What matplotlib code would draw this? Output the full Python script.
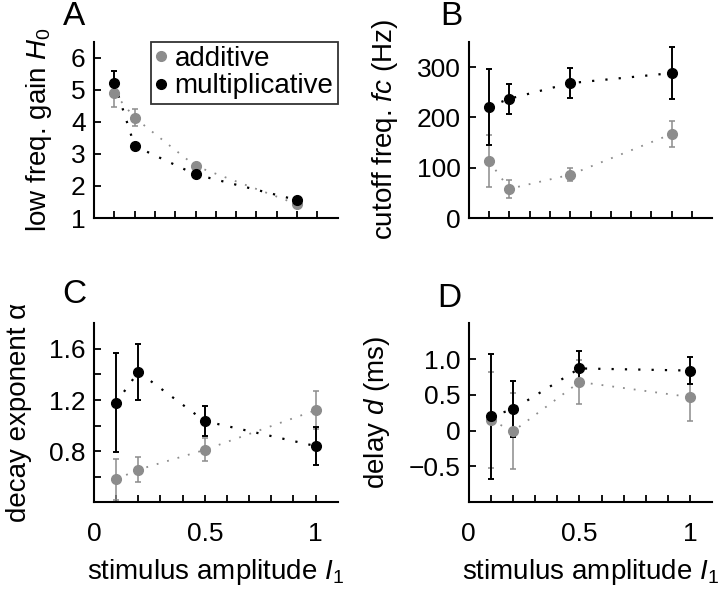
import matplotlib
matplotlib.use("Agg")
import matplotlib.pyplot as plt
from matplotlib.lines import Line2D
from matplotlib.ticker import FixedLocator, FixedFormatter

plt.rcParams['font.family'] = ['Liberation Sans', 'DejaVu Sans']
plt.rcParams['mathtext.fontset'] = 'custom'
plt.rcParams['mathtext.rm'] = 'Liberation Sans'
plt.rcParams['mathtext.it'] = 'Liberation Sans:italic'

amp = [0.1, 0.2, 0.5, 1.0]
GRAY = '#8c8c8c'

# A: low frequency gain
gain_add = [4.9, 4.13, 2.62, 1.43]
gain_add_err = [0.42, 0.26, 0.08, 0.05]
gain_mul = [5.22, 3.25, 2.36, 1.56]
gain_mul_err = [0.37, 0.05, 0.05, 0.04]

# B: cutoff frequency
fc_add = [113, 58, 86, 167]
fc_add_err = [52, 18, 13, 25]
fc_mul = [221, 237, 268, 288]
fc_mul_err = [75, 30, 30, 51]

# C: decay exponent
alpha_add = [0.58, 0.655, 0.81, 1.12]
alpha_add_err = [0.16, 0.10, 0.09, 0.15]
alpha_mul = [1.18, 1.42, 1.035, 0.84]
alpha_mul_err = [0.39, 0.22, 0.12, 0.145]

# D: delay
delay_add = [0.15, -0.01, 0.68, 0.47]
delay_add_err = [0.67, 0.53, 0.31, 0.33]
delay_mul = [0.2, 0.3, 0.87, 0.84]
delay_mul_err = [0.875, 0.39, 0.25, 0.19]

fig = plt.figure(figsize=(7.2, 5.9), dpi=100)
W = 0.3384
axA = fig.add_axes([0.1306, 0.6305, W, 0.2985])
axB = fig.add_axes([0.651, 0.6305, W, 0.2985])
axC = fig.add_axes([0.1306, 0.1487, W, 0.3033])
axD = fig.add_axes([0.651, 0.1487, W, 0.3033])

TICK_FS = 19
LAB_FS = 20


def draw(ax, y_add, e_add, y_mul, e_mul):
    dots = (0, (1, 5))
    ax.plot(amp, y_add, color=GRAY, ls=dots, lw=1.3)
    ax.plot(amp, y_mul, color='black', ls=dots, lw=1.6)
    ax.errorbar(amp, y_add, yerr=e_add, fmt='o', color=GRAY, ms=7,
                elinewidth=1.1, capsize=2, capthick=1.1)
    ax.errorbar(amp, y_mul, yerr=e_mul, fmt='o', color='black', ms=7,
                elinewidth=1.4, capsize=2, capthick=1.4)
    for s in ['top', 'right']:
        ax.spines[s].set_visible(False)
    for s in ['left', 'bottom']:
        ax.spines[s].set_linewidth(1.5)
    ax.tick_params(which='both', direction='in', length=5, width=1.3,
                   labelsize=TICK_FS, pad=6)


draw(axA, gain_add, gain_add_err, gain_mul, gain_mul_err)
draw(axB, fc_add, fc_add_err, fc_mul, fc_mul_err)
draw(axC, alpha_add, alpha_add_err, alpha_mul, alpha_mul_err)
draw(axD, delay_add, delay_add_err, delay_mul, delay_mul_err)

# top row x axes
for ax in (axA, axB):
    ax.set_xlim(0, 1.2)
    ax.xaxis.set_major_locator(FixedLocator([0.1 * i for i in range(1, 12)]))
    ax.set_xticklabels([])

# bottom row x axes
for ax in (axC, axD):
    ax.set_xlim(0, 1.1)
    ax.xaxis.set_major_locator(FixedLocator([0, 0.5, 1]))
    ax.xaxis.set_major_formatter(FixedFormatter(['0', '0.5', '1']))
    ax.xaxis.set_minor_locator(FixedLocator([0.1 * i for i in range(1, 11)]))
    ax.set_xlabel(r'stimulus amplitude $I_{\mathit{1}}$', fontsize=LAB_FS,
                  labelpad=8)
    ax.tick_params(axis='x', pad=14)

axA.set_ylim(1, 6.5)
axA.set_yticks([1, 2, 3, 4, 5, 6])
axA.set_ylabel(r'low freq. gain $H_{\mathit{0}}$', fontsize=LAB_FS, labelpad=12)

axB.set_ylim(0, 350)
axB.set_yticks([0, 100, 200, 300])
axB.set_ylabel('cutoff freq. $fc$ (Hz)', fontsize=LAB_FS, labelpad=12)

axC.set_ylim(0.4, 1.8)
axC.set_yticks([0.8, 1.2, 1.6])
axC.yaxis.set_minor_locator(FixedLocator([0.6, 1.0, 1.4]))
axC.set_ylabel('decay exponent \u03b1', fontsize=LAB_FS, labelpad=12)

axD.set_ylim(-1, 1.5)
axD.set_yticks([-0.5, 0, 0.5, 1.0])
axD.set_yticklabels(['\u22120.5', '0', '0.5', '1.0'])
axD.set_ylabel('delay $d$ (ms)', fontsize=LAB_FS, labelpad=12)

handles = [Line2D([], [], ls='none', marker='o', ms=7, color=GRAY),
           Line2D([], [], ls='none', marker='o', ms=7, color='black')]
leg = axA.legend(handles, ['additive', 'multiplicative'], loc='upper right',
                 bbox_to_anchor=(1.0, 1.0), fontsize=LAB_FS,
                 frameon=True, fancybox=False, handlelength=0.4,
                 handletextpad=0.3, borderpad=0.15, labelspacing=0.05,
                 borderaxespad=0.0)
leg.get_frame().set_edgecolor('black')
leg.get_frame().set_linewidth(1.3)

fig.text(63 / 720, 1 - 25 / 590, 'A', fontsize=24)
fig.text(440 / 720, 1 - 25 / 590, 'B', fontsize=24)
fig.text(62 / 720, 1 - 303 / 590, 'C', fontsize=24)
fig.text(437 / 720, 1 - 307 / 590, 'D', fontsize=24)

fig.savefig('out.png', dpi=100)
